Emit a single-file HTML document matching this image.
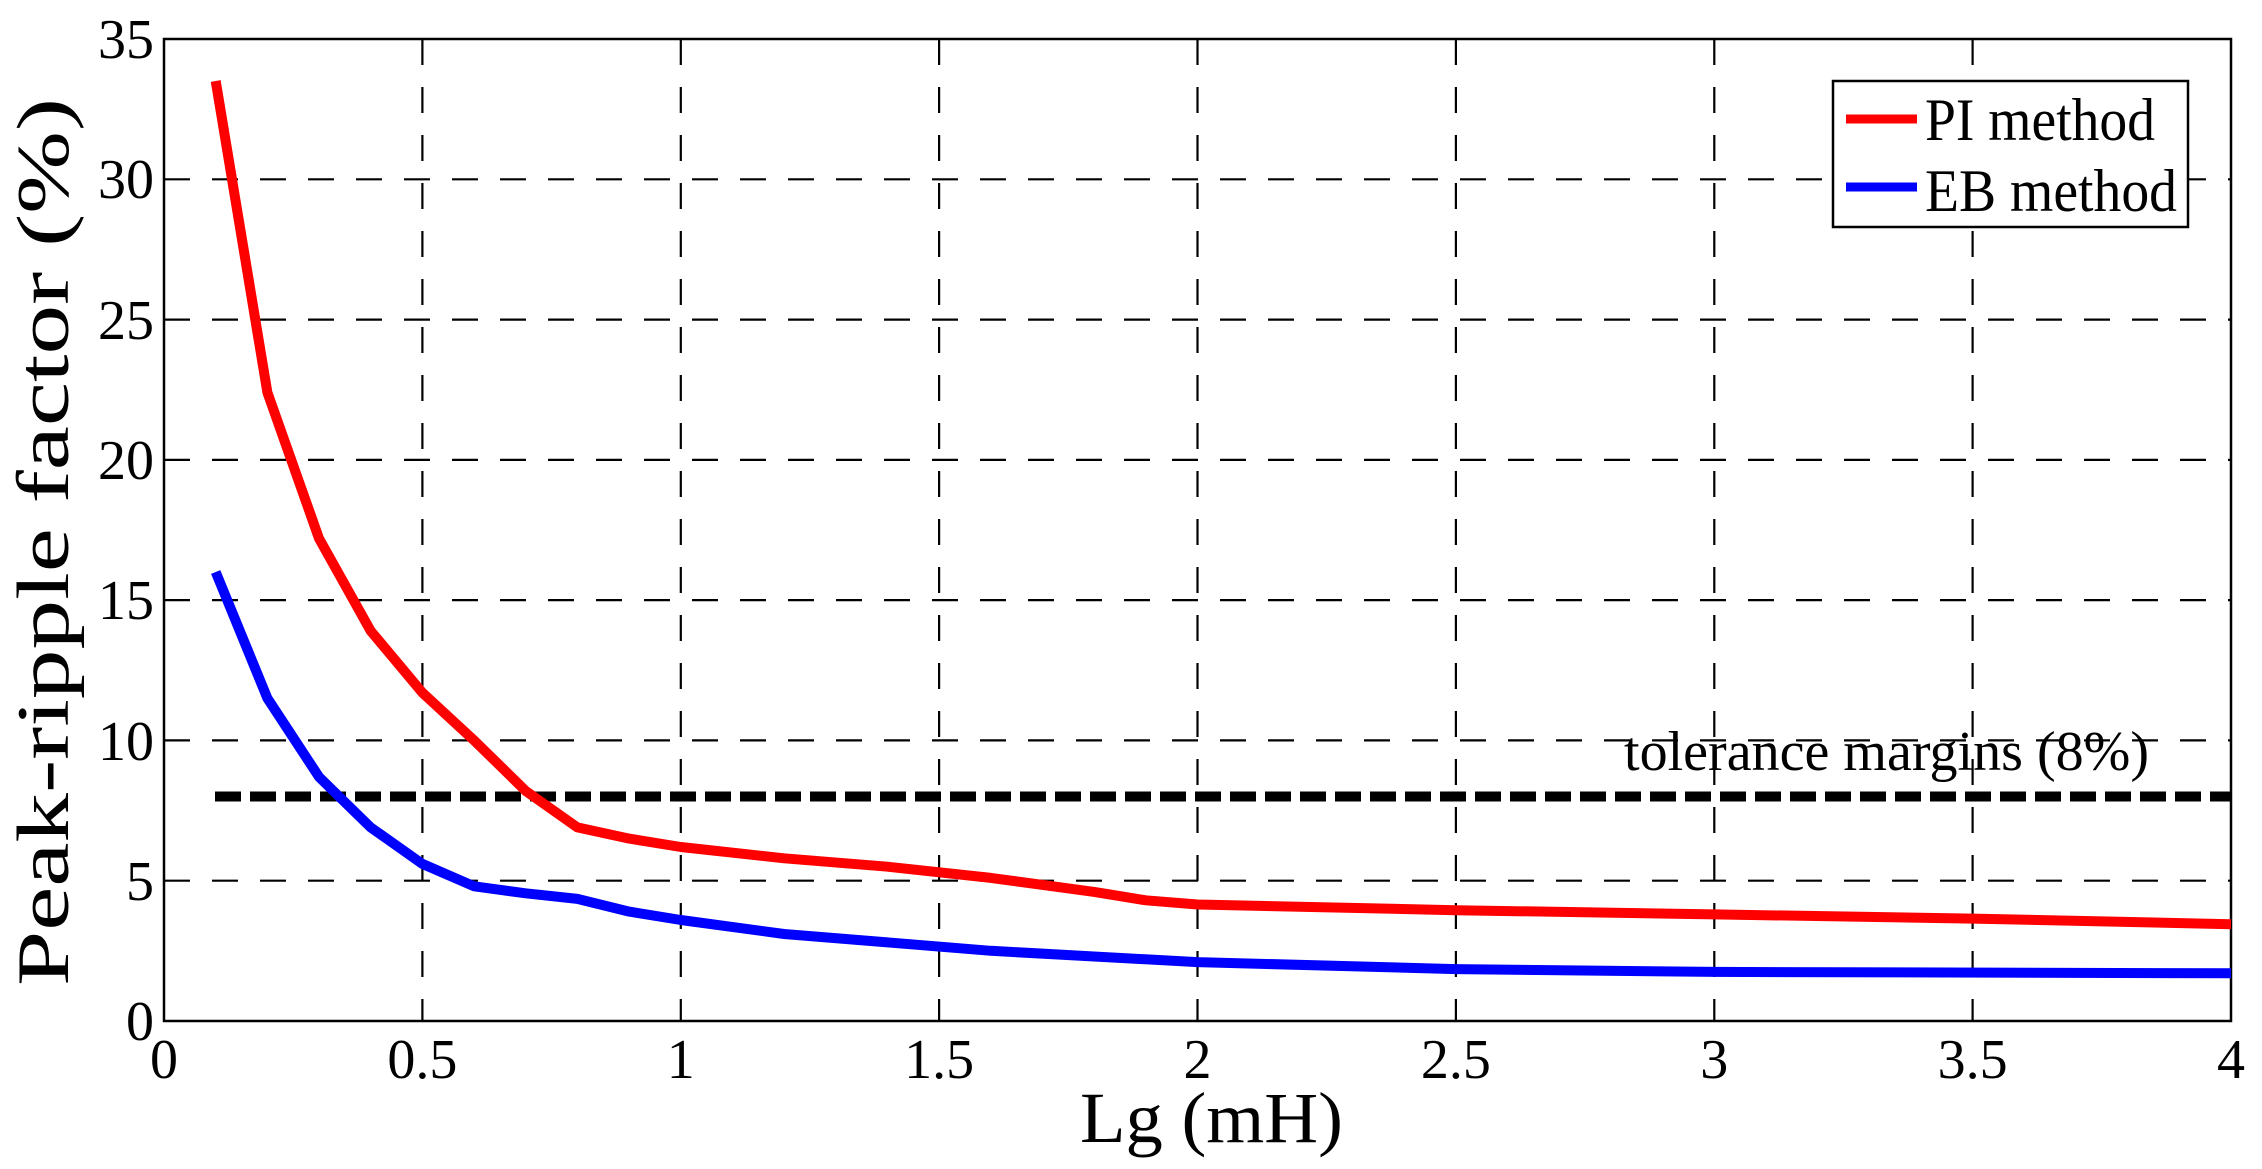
<!DOCTYPE html>
<html><head><meta charset="utf-8"><style>html,body{margin:0;padding:0;background:#fff}svg{display:block}</style></head>
<body>
<svg width="2262" height="1169" viewBox="0 0 2262 1169" xmlns="http://www.w3.org/2000/svg" font-family="'Liberation Serif', serif">
<rect width="2262" height="1169" fill="#fff"/>
<g stroke="#000" stroke-width="2.2" stroke-dasharray="26,22" fill="none">
<line x1="422.4" y1="39" x2="422.4" y2="1021"/>
<line x1="680.8" y1="39" x2="680.8" y2="1021"/>
<line x1="939.1" y1="39" x2="939.1" y2="1021"/>
<line x1="1197.5" y1="39" x2="1197.5" y2="1021"/>
<line x1="1455.9" y1="39" x2="1455.9" y2="1021"/>
<line x1="1714.3" y1="39" x2="1714.3" y2="1021"/>
<line x1="1972.6" y1="39" x2="1972.6" y2="1021"/>
<line x1="164" y1="880.7" x2="2231" y2="880.7"/>
<line x1="164" y1="740.4" x2="2231" y2="740.4"/>
<line x1="164" y1="600.1" x2="2231" y2="600.1"/>
<line x1="164" y1="459.9" x2="2231" y2="459.9"/>
<line x1="164" y1="319.6" x2="2231" y2="319.6"/>
<line x1="164" y1="179.3" x2="2231" y2="179.3"/>
</g>
<rect x="164" y="39" width="2067" height="982" fill="none" stroke="#000" stroke-width="2.5"/>
<line x1="215" y1="796.5" x2="2231" y2="796.5" stroke="#000" stroke-width="10" stroke-dasharray="26,9"/>
<polyline fill="none" stroke="#f00" stroke-width="10" stroke-linejoin="round" points="
215.7,81 267.4,392.5 319,538.4 370.7,630.9 422.4,692.7 474.1,740.4 525.7,790.9 577.4,827.4 629.1,838.6 680.8,847 784.1,858.3 887.5,866.7 990.8,877.9 1094.2,891.9 1145.8,900.3 1197.5,904.5 1455.9,910.2 1714.3,914.4 1972.6,918.6 2231,924.2"/>
<polyline fill="none" stroke="#00f" stroke-width="10" stroke-linejoin="round" points="
215.7,572 267.4,698.3 319,776.9 370.7,827.4 422.4,863.9 474.1,886.3 525.7,893.3 577.4,898.9 629.1,911.6 680.8,920 784.1,934 887.5,942.4 990.8,950.8 1094.2,956.5 1197.5,962.1 1455.9,969.1 1714.3,971.9 2231,973.3"/>
<text x="2149" y="770" font-size="56" text-anchor="end" textLength="525" lengthAdjust="spacingAndGlyphs">tolerance margins (8%)</text>
<rect x="1833" y="81" width="355" height="146" fill="#fff" stroke="#000" stroke-width="2.5"/>
<line x1="1846" y1="119" x2="1917" y2="119" stroke="#f00" stroke-width="9"/>
<line x1="1846" y1="187" x2="1917" y2="187" stroke="#00f" stroke-width="9"/>
<text x="1925" y="140" font-size="60" textLength="230" lengthAdjust="spacingAndGlyphs">PI method</text>
<text x="1925" y="211" font-size="60" textLength="252" lengthAdjust="spacingAndGlyphs">EB method</text>
<g font-size="56" text-anchor="end">
<text x="154" y="1040">0</text>
<text x="154" y="900">5</text>
<text x="154" y="760">10</text>
<text x="154" y="619">15</text>
<text x="154" y="479">20</text>
<text x="154" y="339">25</text>
<text x="154" y="198">30</text>
<text x="154" y="58">35</text>
</g>
<g font-size="56" text-anchor="middle">
<text x="164" y="1078">0</text>
<text x="422.4" y="1078">0.5</text>
<text x="680.8" y="1078">1</text>
<text x="939.1" y="1078">1.5</text>
<text x="1197.5" y="1078">2</text>
<text x="1455.9" y="1078">2.5</text>
<text x="1714.3" y="1078">3</text>
<text x="1972.6" y="1078">3.5</text>
<text x="2231" y="1078">4</text>
</g>
<text x="1080" y="1142" font-size="72" textLength="263" lengthAdjust="spacingAndGlyphs">Lg (mH)</text>
<text transform="translate(68,986) rotate(-90)" font-size="74" textLength="888" lengthAdjust="spacingAndGlyphs">Peak-ripple factor (%)</text>
</svg>
</body></html>
